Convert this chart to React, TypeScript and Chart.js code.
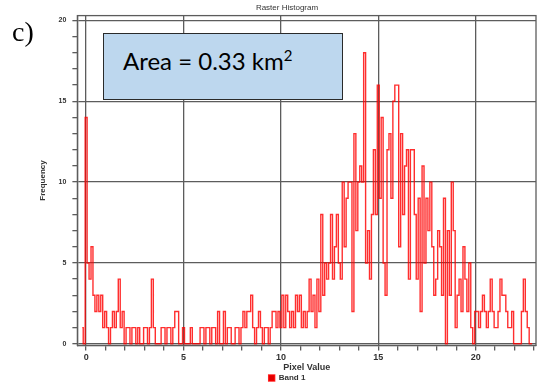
import React, { useEffect, useRef } from 'react';
import { Chart, registerables } from 'chart.js';

Chart.register(...registerables);

// Histogram bins: first bin centre and bin width (pixel value units)
const binStart = -0.2;
const binWidth = 0.1;

// Frequency per bin, one row per unit of pixel value
const frequency: number[] = [
  1, 0,
  14, 5, 4, 6, 3, 2, 3, 2, 3, 1,
  2, 1, 0, 1, 2, 1, 2, 4, 1, 2,
  0, 1, 1, 0, 1, 1, 0, 1, 0, 0,
  1, 1, 0, 1, 4, 1, 0, 0, 0, 1,
  1, 0, 1, 1, 0, 1, 2, 2, 0, 0,
  1, 0, 0, 0, 1, 0, 0, 0, 0, 1,
  1, 0, 1, 1, 0, 1, 1, 0, 2, 0,
  0, 2, 0, 1, 1, 0, 0, 1, 1, 0,
  1, 2, 1, 2, 2, 3, 1, 0, 1, 2,
  1, 0, 1, 1, 0, 1, 2, 2, 1, 2,
  1, 3, 1, 3, 2, 1, 2, 1, 3, 2,
  3, 1, 2, 1, 2, 4, 2, 3, 1, 4,
  2, 8, 3, 5, 4, 5, 8, 4, 6, 8,
  5, 4, 10, 6, 9, 10, 10, 2, 13, 7,
  10, 11, 10, 18, 5, 7, 4, 8, 12, 8,
  16, 9, 14, 5, 3, 12, 13, 9, 15, 16,
  16, 6, 13, 8, 11, 12, 4, 12, 12, 8,
  4, 9, 2, 11, 5, 9, 7, 10, 6, 3,
  4, 7, 6, 3, 9, 0, 7, 3, 10, 7,
  1, 3, 4, 2, 6, 4, 2, 5, 1, 0,
  2, 2, 1, 2, 3, 2, 1, 2, 4, 2,
  1, 1, 2, 4, 3, 3, 2, 1, 1, 2,
  0, 0, 0, 0, 2, 4, 2, 1, 0, 0,
];

const xTickValues = [0, 1, 2, 3, 4, 5, 6, 7, 8, 9, 10, 11, 12, 13, 14, 15, 16, 17, 18, 19, 20, 21, 22, 23];
const xLabelValues = [0, 5, 10, 15, 20];
const yTickValues = [0, 1, 2, 3, 4, 5, 6, 7, 8, 9, 10, 11, 12, 13, 14, 15, 16, 17, 18, 19, 20];
const yLabelValues = [0, 5, 10, 15, 20];

const seriesLabel = 'Band 1';
const chartTitle = 'Raster Histogram';
const xTitle = 'Pixel Value';
const yTitle = 'Frequency';

const GRID = '#5c5c5c';

const framePlugin = {
  id: 'frame',
  afterDatasetsDraw(chart: any) {
    const { ctx, chartArea: a } = chart;
    ctx.save();
    ctx.strokeStyle = GRID;
    ctx.lineWidth = 1.3;
    ctx.strokeRect(a.left, a.top, a.right - a.left, a.bottom - a.top);
    ctx.restore();
  },
};

export default function App() {
  const ref = useRef<HTMLCanvasElement | null>(null);

  useEffect(() => {
    if (!ref.current) return;
    Chart.defaults.font.family = "'Liberation Sans', Arial, sans-serif";
    const points = frequency.map((f, i) => ({ x: binStart + i * binWidth, y: f }));
    const chart = new Chart(ref.current, {
      type: 'line',
      data: {
        datasets: [
          {
            label: seriesLabel,
            data: points,
            borderColor: 'rgba(255,0,0,0.82)',
            backgroundColor: '#e00000',
            borderWidth: 1.4,
            pointRadius: 0,
            stepped: 'middle',
            fill: false,
          },
        ],
      },
      options: {
        animation: false,
        responsive: false,
        devicePixelRatio: 1,
        layout: { padding: { left: 38, right: 11, top: 0, bottom: -10 } },
        plugins: {
          title: {
            display: true,
            text: chartTitle,
            color: '#333',
            font: { size: 8, weight: 'normal' },
            padding: { top: 3, bottom: 3 },
          },
          legend: {
            position: 'bottom',
            labels: {
              boxWidth: 6,
              boxHeight: 6,
              padding: 1,
              color: '#333',
              font: { size: 8, weight: 'bold' },
            },
          },
          tooltip: { enabled: false },
        },
        scales: {
          x: {
            type: 'linear',
            min: -0.45,
            max: 23.1,
            afterBuildTicks: (s: any) => {
              s.ticks = xTickValues.map((v) => ({ value: v }));
            },
            ticks: {
              autoSkip: false,
              maxRotation: 0,
              padding: 2,
              color: '#333',
              font: { size: 9, weight: 'bold' },
              callback: (v: any) => (xLabelValues.includes(Number(v)) ? String(v) : ''),
            },
            grid: {
              color: (c: any) => (xLabelValues.includes(c.tick?.value) ? GRID : 'rgba(0,0,0,0)'),
              tickColor: GRID,
              tickLength: 5,
              lineWidth: 1.3,
            },
            border: { color: GRID, width: 1.3 },
            title: {
              display: true,
              text: xTitle,
              color: '#333',
              font: { size: 9, weight: 'bold' },
              padding: { top: -3, bottom: 0 },
            },
          },
          y: {
            type: 'linear',
            min: -0.1,
            max: 20.3,
            afterBuildTicks: (s: any) => {
              s.ticks = yTickValues.map((v) => ({ value: v }));
            },
            ticks: {
              autoSkip: false,
              padding: 6,
              color: '#333',
              font: { size: 7, weight: 'bold' },
              callback: (v: any) => (yLabelValues.includes(Number(v)) ? String(v) : ''),
            },
            grid: {
              color: (c: any) => (yLabelValues.includes(c.tick?.value) ? GRID : 'rgba(0,0,0,0)'),
              tickColor: GRID,
              tickLength: 5,
              lineWidth: 1.3,
            },
            border: { color: GRID, width: 1.3 },
            title: {
              display: true,
              text: yTitle,
              color: '#333',
              font: { size: 8, weight: 'bold' },
              padding: { top: 0, bottom: 5 },
            },
          },
        },
      },
      plugins: [framePlugin],
    });
    return () => chart.destroy();
  }, []);

  return (
    <div style={{ position: 'fixed', left: 0, top: 0, width: 547, height: 382, background: '#fff' }}>
      <canvas ref={ref} width={547} height={382} style={{ display: 'block' }} />
      <div
        style={{
          position: 'absolute',
          left: 12,
          top: 16,
          fontFamily: "'Liberation Serif', 'Times New Roman', serif",
          fontSize: 28,
          lineHeight: '32px',
          color: '#000',
        }}
      >
        c)
      </div>
      <div
        style={{
          position: 'absolute',
          left: 103,
          top: 33,
          width: 240,
          height: 67,
          boxSizing: 'border-box',
          background: '#bdd7ee',
          border: '1.5px solid #2a2a2a',
          fontFamily: "Lato, 'Open Sans', sans-serif",
          fontSize: 24,
          lineHeight: 'normal',
          color: '#000',
          paddingLeft: 19,
          paddingTop: 12,
          whiteSpace: 'nowrap',
        }}
      >
        Area = 0.33 km
        <span style={{ fontSize: 15, position: 'relative', top: -9 }}>2</span>
      </div>
    </div>
  );
}
